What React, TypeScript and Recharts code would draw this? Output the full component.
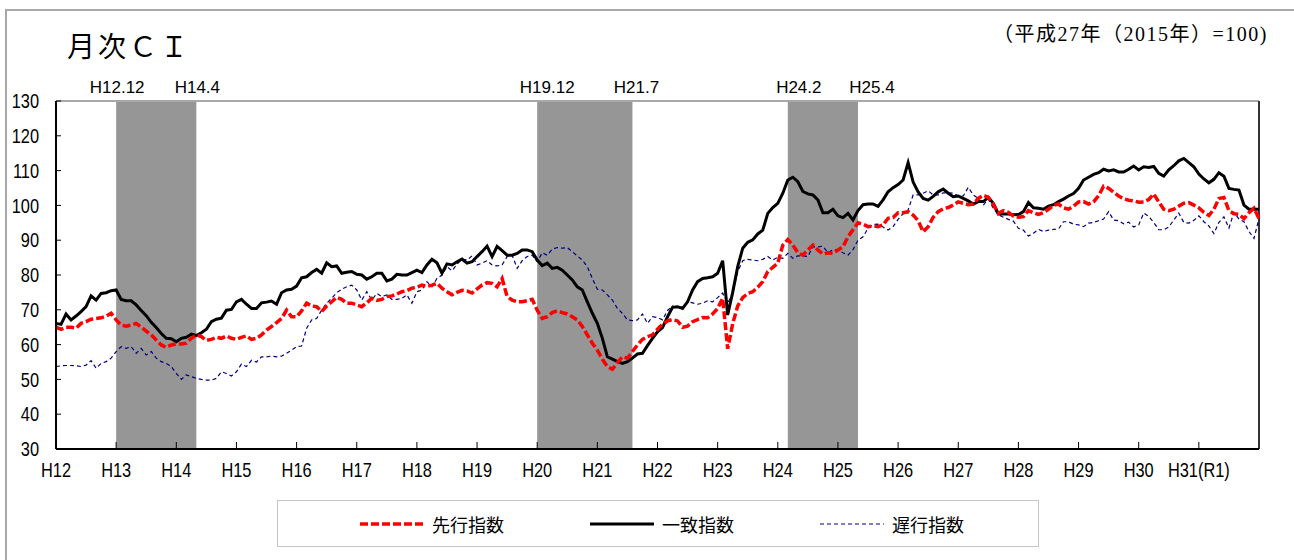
import React from "react";
import { LineChart, Line, XAxis, YAxis, ReferenceArea, ReferenceLine } from "recharts";

// 月次CI (平成27年=100), H12.1 〜 R2.1, 月次
const yearLabels = [
  "H12", "H13", "H14", "H15", "H16", "H17", "H18", "H19", "H20", "H21",
  "H22", "H23", "H24", "H25", "H26", "H27", "H28", "H29", "H30", "H31(R1)",
];
const yTicks = [30, 40, 50, 60, 70, 80, 90, 100, 110, 120, 130];

// 先行指数
const leading = [
  65.0, 64.4, 65.0, 65.0, 64.7, 66.1, 66.6, 67.3, 67.5, 67.7, 68.2, 69.0,
  67.1, 65.6, 65.3, 65.6, 66.1, 65.0, 63.9, 62.8, 61.3, 59.9, 59.2, 59.9,
  60.2, 60.2, 60.4, 61.8, 62.8, 62.3, 61.2, 61.5, 62.1, 61.8, 62.5, 61.8,
  61.5, 62.1, 62.5, 61.5, 61.8, 62.8, 64.2, 65.2, 66.3, 67.5, 69.9, 68.0,
  68.0, 69.7, 71.9, 71.1, 70.9, 69.5, 71.1, 72.3, 73.6, 73.0, 71.9, 71.9,
  71.4, 70.9, 72.0, 73.3, 72.7, 73.0, 73.8, 74.0, 74.5, 75.2, 75.5, 76.2,
  76.5, 77.1, 76.7, 77.1, 77.6, 76.2, 75.2, 74.3, 75.0, 75.6, 75.4, 74.8,
  76.0, 77.1, 77.8, 77.6, 76.6, 79.0, 73.8, 72.8, 72.3, 72.3, 72.6, 73.0,
  69.9, 67.5, 68.0, 69.2, 69.7, 69.2, 68.8, 68.0, 67.1, 65.2, 62.8, 60.4,
  58.4, 55.8, 53.7, 52.9, 54.8, 56.5, 56.1, 58.0, 59.9, 61.5, 62.3, 62.8,
  64.4, 65.9, 66.8, 67.2, 66.8, 65.0, 65.3, 66.6, 67.2, 67.8, 67.7, 68.8,
  70.4, 73.3, 58.8, 66.0, 71.1, 73.5, 74.7, 75.2, 76.5, 78.1, 81.0, 82.2,
  83.4, 88.6, 90.2, 88.6, 86.4, 85.7, 87.2, 88.6, 87.2, 86.0, 86.4, 86.2,
  87.2, 88.1, 91.0, 93.0, 95.0, 94.6, 93.9, 94.1, 93.9, 94.4, 96.3, 96.5,
  97.9, 97.9, 98.2, 97.2, 95.6, 92.4, 93.9, 96.6, 98.2, 99.0, 99.4, 100.1,
  101.0, 100.6, 100.2, 100.4, 102.0, 102.9, 102.3, 100.3, 97.7, 98.5, 98.0, 96.9,
  96.6, 96.8, 98.5, 97.9, 97.4, 97.9, 98.9, 100.0, 100.4, 99.3, 98.9, 99.8,
  101.0, 101.1, 100.4, 101.0, 102.8, 105.5, 104.9, 103.8, 102.7, 101.9, 101.5, 101.3,
  100.9, 101.0, 101.7, 103.3, 101.0, 98.9, 98.5, 98.9, 99.8, 100.6, 100.8, 100.1,
  99.3, 98.0, 97.1, 98.9, 102.0, 102.3, 98.5, 97.6, 97.4, 96.2, 97.9, 99.2,
  96.2,
];

// 一致指数
const coincident = [
  66.1, 65.8, 68.8, 67.1, 68.2, 69.5, 70.9, 74.0, 72.8, 74.7, 74.9, 75.5,
  75.7, 73.0, 72.6, 72.6, 71.4, 69.8, 68.3, 66.4, 64.9, 63.2, 61.8, 61.7,
  60.8, 61.8, 62.1, 63.0, 62.6, 63.4, 64.4, 66.6, 67.3, 67.6, 69.9, 70.1,
  72.3, 73.0, 71.6, 70.4, 70.4, 72.0, 72.2, 72.5, 71.6, 74.9, 75.7, 75.9,
  76.8, 79.2, 79.5, 80.7, 81.6, 80.5, 83.5, 82.4, 82.6, 80.5, 80.8, 81.0,
  80.2, 80.0, 78.8, 79.5, 80.5, 80.5, 78.3, 78.8, 80.2, 80.0, 80.0, 80.7,
  81.4, 80.7, 82.9, 84.5, 83.5, 80.5, 83.2, 82.9, 83.8, 84.6, 83.4, 83.8,
  85.3, 86.7, 88.3, 85.3, 88.2, 87.0, 85.7, 85.7, 86.2, 87.2, 87.2, 86.7,
  84.3, 82.7, 83.4, 81.9, 82.2, 81.4, 80.0, 78.6, 76.6, 75.7, 72.3, 69.0,
  66.1, 61.8, 56.5, 55.8, 55.1, 54.6, 55.1, 56.1, 57.3, 57.5, 59.7, 61.8,
  63.7, 64.9, 68.0, 70.7, 70.9, 70.4, 72.3, 75.7, 78.1, 79.0, 79.2, 79.5,
  80.5, 84.1, 68.5, 75.0, 82.4, 87.7, 89.4, 90.1, 91.8, 92.9, 97.7, 99.4,
  100.6, 103.5, 107.3, 108.1, 106.8, 104.0, 103.3, 103.0, 101.6, 97.9, 97.9, 98.9,
  97.0, 96.5, 97.7, 95.8, 98.5, 100.2, 100.4, 100.4, 99.7, 101.6, 103.9, 105.1,
  106.0, 107.3, 112.3, 106.7, 103.9, 102.0, 101.5, 102.6, 103.9, 104.7, 103.5, 102.5,
  102.7, 102.0, 101.3, 100.4, 101.1, 101.1, 102.3, 100.6, 97.5, 97.5, 97.5, 97.3,
  97.4, 98.2, 100.8, 99.3, 99.2, 98.9, 99.8, 100.2, 101.1, 101.8, 102.7, 103.4,
  104.9, 107.3, 108.1, 108.9, 109.4, 110.4, 109.9, 110.2, 109.6, 109.6, 110.4, 111.3,
  110.2, 111.1, 110.9, 111.2, 109.2, 108.4, 110.2, 111.4, 112.8, 113.5, 112.3, 111.1,
  109.0, 107.6, 106.5, 107.5, 109.4, 108.4, 104.9, 104.6, 104.4, 100.1, 98.9, 98.9,
  98.9,
];

// 遅行指数
const lagging = [
  53.7, 53.9, 54.0, 54.0, 53.9, 53.7, 54.1, 55.4, 53.2, 54.6, 55.1, 56.1,
  58.0, 59.4, 58.9, 59.4, 57.5, 58.9, 57.0, 58.0, 56.1, 55.1, 54.6, 53.7,
  51.7, 50.0, 51.3, 50.8, 50.3, 50.0, 49.8, 49.8, 50.3, 52.2, 51.7, 51.0,
  52.2, 54.4, 53.7, 55.5, 55.0, 56.5, 56.5, 56.7, 56.5, 56.7, 57.5, 58.4,
  59.4, 59.6, 64.7, 67.1, 67.5, 69.9, 71.9, 73.3, 74.9, 75.9, 76.6, 77.1,
  75.7, 72.8, 75.2, 72.8, 74.7, 73.8, 74.3, 73.0, 73.0, 73.3, 74.3, 71.9,
  75.2, 75.7, 78.1, 76.6, 79.0, 80.0, 82.4, 81.2, 83.1, 84.5, 84.3, 85.5,
  82.9, 83.4, 84.1, 82.9, 82.6, 82.9, 85.3, 85.7, 81.9, 84.1, 85.3, 85.7,
  83.8, 86.4, 85.7, 87.4, 87.9, 87.7, 87.9, 86.7, 85.5, 84.3, 82.4, 79.0,
  75.9, 75.7, 74.3, 72.8, 70.4, 69.0, 67.1, 66.9, 67.1, 68.8, 66.1, 68.0,
  67.8, 67.1, 69.8, 71.1, 70.4, 70.9, 72.3, 72.0, 71.6, 71.9, 72.6, 72.3,
  73.5, 74.8, 71.9, 74.8, 81.0, 84.1, 84.5, 84.3, 84.1, 84.5, 85.3, 84.3,
  85.1, 84.8, 86.2, 84.8, 85.5, 85.5, 85.3, 88.1, 88.1, 88.3, 86.4, 87.2,
  87.2, 86.4, 85.7, 87.3, 90.0, 91.0, 93.4, 94.5, 94.6, 93.8, 92.9, 93.9,
  96.0, 97.6, 98.7, 103.0, 103.0, 103.5, 104.2, 103.0, 103.0, 103.6, 103.6, 103.5,
  102.7, 102.7, 105.2, 103.0, 102.0, 100.1, 101.8, 99.2, 97.3, 96.6, 96.0, 95.5,
  93.4, 92.9, 91.2, 92.0, 93.1, 92.5, 92.9, 93.1, 93.2, 95.3, 95.3, 94.6,
  94.4, 93.9, 94.9, 95.1, 95.6, 96.1, 98.2, 95.8, 95.6, 94.7, 95.2, 93.8,
  94.4, 97.8, 96.8, 95.1, 93.0, 93.0, 93.8, 95.8, 97.8, 95.1, 94.9, 95.7,
  97.0, 95.3, 94.1, 91.9, 95.1, 96.7, 93.5, 98.0, 96.1, 95.3, 92.5, 90.5,
  96.2,
];

// 景気の山・谷
const recessions = [
  { from: "H12.12", to: "H14.4" },
  { from: "H19.12", to: "H21.7" },
  { from: "H24.2", to: "H25.4" },
];
// ラベルの横ずらし(px)
const labelShift: Record<string, number> = {
  "H12.12": 1, "H14.4": 1, "H19.12": 10, "H21.7": 4, "H24.2": 11, "H25.4": 14,
};

// "H19.12" -> 月の通し番号(H12.1 = 0) の翌月
const toIndex = (label: string) => {
  const [y, m] = label.slice(1).split(".").map(Number);
  return (y - 12) * 12 + m;
};

const data = leading.map((v, i) => ({
  m: i,
  leading: v,
  coincident: coincident[i],
  lagging: lagging[i],
}));
const lastIndex = data.length - 1;
const xTicks = yearLabels.map((_, i) => i * 12);

const SANS = '"Liberation Sans", Arial, sans-serif';
const CJK = '"Noto Sans CJK JP", sans-serif';
const SERIF = '"Liberation Serif", "Noto Sans CJK JP", serif';

const series = [
  { key: "leading", name: "先行指数", color: "#ff0000", width: 3.5, dash: "8 3" },
  { key: "coincident", name: "一致指数", color: "#000000", width: 3, dash: undefined },
  { key: "lagging", name: "遅行指数", color: "#000080", width: 1.2, dash: "4 3" },
];

const YTick = (props: any) => {
  const { x, y, payload } = props;
  return (
    <g>
      <line x1={x} y1={y} x2={x + 5} y2={y} stroke="#000" />
      <text
        transform={`translate(${x - 17},${y}) scale(0.82,1)`}
        textAnchor="end"
        dominantBaseline="central"
        fontSize={20}
        fontFamily={SANS}
        fill="#000"
      >
        {payload.value}
      </text>
    </g>
  );
};

const XTick = (props: any) => {
  const { x, y, payload } = props;
  return (
    <g>
      <line x1={x} y1={y} x2={x} y2={y - 7} stroke="#000" />
      <text
        transform={`translate(${x},${y + 21}) scale(0.82,1)`}
        textAnchor="middle"
        dominantBaseline="central"
        fontSize={20}
        fontFamily={SANS}
        fill="#000"
      >
        {yearLabels[payload.value / 12]}
      </text>
    </g>
  );
};

const PeriodLabel = (props: any) => {
  const { viewBox, value } = props;
  return (
    <text
      x={viewBox.x + (labelShift[value] || 0)}
      y={viewBox.y - 8}
      textAnchor="middle"
      fontSize={17}
      fontFamily={SANS}
      fill="#000"
    >
      {value}
    </text>
  );
};

function LegendBox() {
  return (
    <div
      style={{
        position: "absolute",
        left: 277,
        top: 500,
        width: 762,
        height: 47,
        border: "1px solid #c4c4c4",
        boxSizing: "border-box",
      }}
    >
      {series.map((s, i) => (
        <div
          key={s.key}
          style={{
            position: "absolute",
            left: 82 + i * 230,
            top: 0,
            height: 45,
            display: "flex",
            alignItems: "center",
          }}
        >
          <svg width={64} height={10}>
            <line
              x1={0}
              y1={5}
              x2={64}
              y2={5}
              stroke={s.color}
              strokeWidth={s.width}
              strokeDasharray={s.dash}
            />
          </svg>
          <span style={{ marginLeft: 8, fontFamily: CJK, fontSize: 18, color: "#000" }}>{s.name}</span>
        </div>
      ))}
    </div>
  );
}

export default function App() {
  return (
    <div
      style={{
        position: "absolute",
        left: 0,
        top: 0,
        width: 1294,
        height: 560,
        background: "#fff",
        overflow: "hidden",
      }}
    >
      <div
        style={{
          position: "absolute",
          left: 5,
          top: 9,
          width: 1400,
          height: 700,
          borderLeft: "2px solid #a8a8a8",
          borderTop: "2px solid #a8a8a8",
        }}
      />
      <div
        style={{
          position: "absolute",
          left: 67,
          top: 31,
          fontFamily: CJK,
          fontSize: 28,
          letterSpacing: 3,
          lineHeight: 1,
          color: "#000",
        }}
      >
        月次ＣＩ
      </div>
      <div
        style={{
          position: "absolute",
          right: 26,
          top: 24,
          fontFamily: SERIF,
          fontSize: 20,
          letterSpacing: 1.5,
          lineHeight: 1,
          whiteSpace: "nowrap",
          color: "#000",
        }}
      >
        （平成27年（2015年）=100)
      </div>

      <div style={{ position: "absolute", left: 0, top: 0 }}>
        <LineChart width={1294} height={560} data={data} margin={{ top: 101, right: 35, bottom: 71, left: 0 }}>
          {recessions.map((r) => (
            <ReferenceArea
              key={r.from}
              x1={toIndex(r.from)}
              x2={toIndex(r.to)}
              fill="#969696"
              fillOpacity={1}
              stroke="none"
            />
          ))}
          {recessions.flatMap((r) => [
            <ReferenceLine
              key={r.from + "a"}
              x={toIndex(r.from)}
              strokeOpacity={0}
              label={<PeriodLabel value={r.from} />}
            />,
            <ReferenceLine
              key={r.to + "b"}
              x={toIndex(r.to)}
              strokeOpacity={0}
              label={<PeriodLabel value={r.to} />}
            />,
          ])}
          <XAxis
            dataKey="m"
            type="number"
            domain={[0, lastIndex]}
            ticks={xTicks}
            interval={0}
            tickSize={0}
            tickMargin={0}
            tick={<XTick />}
            tickLine={false}
            axisLine={{ stroke: "#000", strokeWidth: 2 }}
            height={40}
          />
          <YAxis
            type="number"
            domain={[30, 130]}
            ticks={yTicks}
            interval={0}
            tickSize={0}
            tickMargin={0}
            tick={<YTick />}
            tickLine={false}
            axisLine={{ stroke: "#000", strokeWidth: 2 }}
            width={56}
          />
          <ReferenceLine y={130} stroke="#a8a8a8" strokeWidth={2} />
          <ReferenceLine x={lastIndex} stroke="#333" strokeWidth={2} />
          {[...series].reverse().map((s) => (
            <Line
              key={s.key}
              type="linear"
              dataKey={s.key}
              name={s.name}
              stroke={s.color}
              strokeWidth={s.width}
              strokeDasharray={s.dash}
              dot={false}
              activeDot={false}
              isAnimationActive={false}
            />
          ))}
        </LineChart>
      </div>
      <LegendBox />
    </div>
  );
}
